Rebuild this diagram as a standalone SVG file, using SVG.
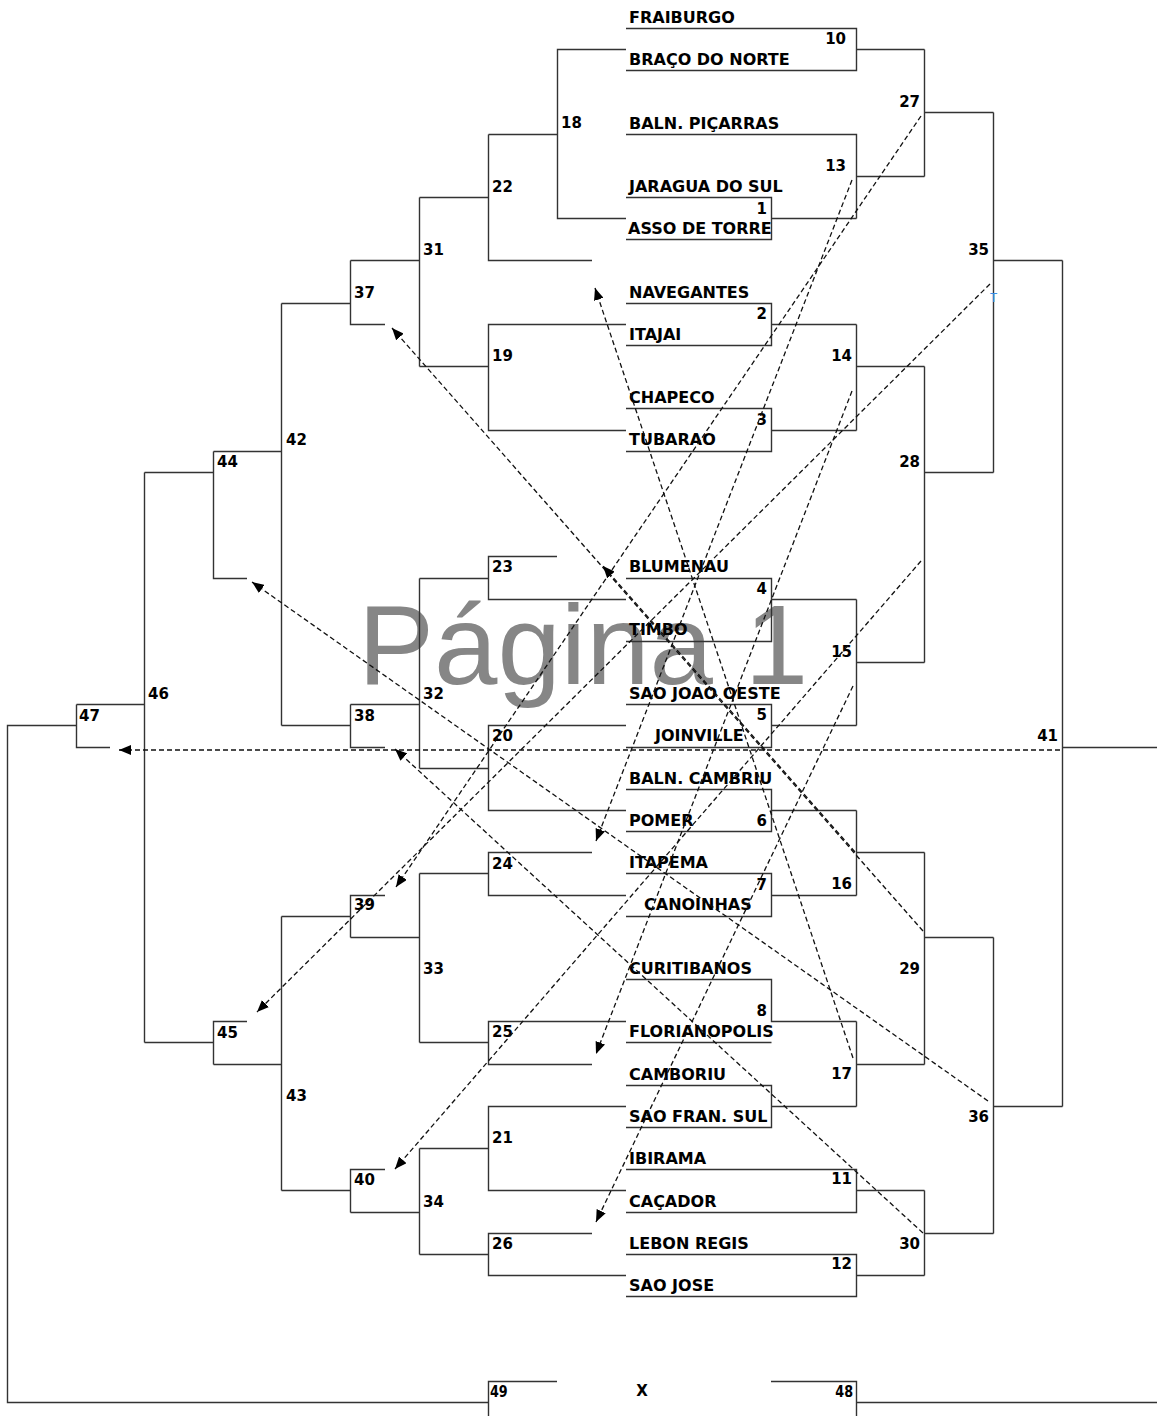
<svg xmlns="http://www.w3.org/2000/svg" width="1157" height="1416" viewBox="0 0 1157 1416">
<defs>
<style>
.b{fill:none;stroke:#333;stroke-width:1.4}
.d{fill:none;stroke:#111;stroke-width:1.3;stroke-dasharray:5 3}
.t{font-family:"DejaVu Sans","Liberation Sans",sans-serif;font-weight:bold;font-size:16px;fill:#000}
.n{font-family:"DejaVu Sans","Liberation Sans",sans-serif;font-weight:bold;font-size:15px;fill:#000}
.r{text-anchor:end}
.wm{font-family:"Liberation Sans",Arial,sans-serif;font-size:114px;fill:#868686}
</style>
<marker id="ah" markerUnits="userSpaceOnUse" markerWidth="13" markerHeight="10" refX="12" refY="5" orient="auto"><path d="M0,0 L12,5 L0,10 z" fill="#000"/></marker>
</defs>
<rect width="1157" height="1416" fill="#fff"/>
<text class="wm" x="358" y="684">Página 1</text>

<g id="teams">
<text class="t" x="629" y="22.5">FRAIBURGO</text>
<text class="t" x="629" y="64.5">BRAÇO DO NORTE</text>
<text class="t" x="629" y="128.5">BALN. PIÇARRAS</text>
<text class="t" x="629" y="191.5">JARAGUA DO SUL</text>
<text class="t" x="628" y="233.5">ASSO DE TORRE</text>
<text class="t" x="629" y="297.5">NAVEGANTES</text>
<text class="t" x="629" y="339.5">ITAJAI</text>
<text class="t" x="629" y="402.5">CHAPECO</text>
<text class="t" x="629" y="445">TUBARAO</text>
<text class="t" x="629" y="572">BLUMENAU</text>
<text class="t" x="629" y="635">TIMBO</text>
<text class="t" x="629" y="698.5">SAO JOAO OESTE</text>
<text class="t" x="655" y="741">JOINVILLE</text>
<text class="t" x="629" y="783.5">BALN. CAMBRIU</text>
<text class="t" x="629" y="825.5">POMER</text>
<text class="t" x="629" y="867.5">ITAPEMA</text>
<text class="t" x="644" y="910">CANOINHAS</text>
<text class="t" x="629" y="973.5">CURITIBANOS</text>
<text class="t" x="629" y="1036.5">FLORIANOPOLIS</text>
<text class="t" x="629" y="1079.5">CAMBORIU</text>
<text class="t" x="629" y="1121.5">SAO FRAN. SUL</text>
<text class="t" x="629" y="1164">IBIRAMA</text>
<text class="t" x="629" y="1206.5">CAÇADOR</text>
<text class="t" x="629" y="1248.5">LEBON REGIS</text>
<text class="t" x="629" y="1290.5">SAO JOSE</text>
</g>

<g id="g10"><path class="b" d="M626 28.5 H856.5 V70.5 H626 M856.5 49.5 H924.5"/><text class="n r" x="846" y="43.5">10</text></g>
<g id="g13"><path class="b" d="M626 134.5 H856.5 V218.5 M856.5 176.5 H924.5"/><text class="n r" x="846" y="170.5">13</text></g>
<g id="g1"><path class="b" d="M626 197.5 H771.5 V239.5 H626 M771.5 218.5 H856.5"/><text class="n r" x="767" y="213.5">1</text></g>
<g id="g27"><path class="b" d="M924.5 49.5 V176.5 M924.5 112.5 H993.5"/><text class="n r" x="920" y="107">27</text></g>
<g id="g2"><path class="b" d="M626 303.5 H771.5 V345.5 H626 M771.5 324.5 H856.5"/><text class="n r" x="767" y="318.5">2</text></g>
<g id="g3"><path class="b" d="M626 408.5 H771.5 V451.5 H626 M771.5 430.5 H856.5"/><text class="n r" x="767" y="424.5">3</text></g>
<g id="g14"><path class="b" d="M856.5 324.5 V430.5 M856.5 366.5 H924.5"/><text class="n r" x="852" y="361">14</text></g>
<g id="g4"><path class="b" d="M626 578.5 H771.5 V641.5 H626 M771.5 599.5 H856.5"/><text class="n r" x="767" y="593.5">4</text></g>
<g id="g5"><path class="b" d="M626 704.5 H771.5 V747.5 H626 M771.5 725.5 H856.5"/><text class="n r" x="767" y="720">5</text></g>
<g id="g15"><path class="b" d="M856.5 599.5 V725.5 M856.5 662.5 H924.5"/><text class="n r" x="852" y="657">15</text></g>
<g id="g28"><path class="b" d="M924.5 366.5 V662.5 M924.5 472.5 H993.5"/><text class="n r" x="920" y="467">28</text></g>
<g id="g35"><path class="b" d="M993.5 112.5 V472.5 M993.5 260.5 H1062.5"/><text class="n r" x="989" y="255">35</text><text x="990" y="302" font-family="Liberation Sans, sans-serif" font-size="12" fill="#3a8ee6">T</text></g>
<g id="g6"><path class="b" d="M626 789.5 H771.5 V831.5 H626 M771.5 810.5 H856.5"/><text class="n r" x="767" y="826">6</text></g>
<g id="g7"><path class="b" d="M626 873.5 H771.5 V916.5 H626 M771.5 895.5 H856.5"/><text class="n r" x="767" y="889.5">7</text></g>
<g id="g16"><path class="b" d="M856.5 810.5 V895.5 M856.5 852.5 H924.5"/><text class="n r" x="852" y="888.5">16</text></g>
<g id="g8"><path class="b" d="M626 979.5 H771.5 V1021.5 H856.5 M626 1042.5 H771.5"/><text class="n r" x="767" y="1016">8</text></g>
<g id="g9"><path class="b" d="M626 1085.5 H771.5 V1127.5 H626 M771.5 1106.5 H856.5"/></g>
<g id="g17"><path class="b" d="M856.5 1021.5 V1106.5 M856.5 1064.5 H924.5"/><text class="n r" x="852" y="1079">17</text></g>
<g id="g29"><path class="b" d="M924.5 852.5 V1064.5 M924.5 937.5 H993.5"/><text class="n r" x="920" y="973.5">29</text></g>
<g id="g11"><path class="b" d="M626 1169.5 H856.5 V1212.5 H626 M856.5 1190.5 H924.5"/><text class="n r" x="852" y="1184">11</text></g>
<g id="g12"><path class="b" d="M626 1254.5 H856.5 V1296.5 H626 M856.5 1275.5 H924.5"/><text class="n r" x="852" y="1269">12</text></g>
<g id="g30"><path class="b" d="M924.5 1190.5 V1275.5 M924.5 1233.5 H993.5"/><text class="n r" x="920" y="1248.5">30</text></g>
<g id="g36"><path class="b" d="M993.5 937.5 V1233.5 M993.5 1106.5 H1062.5"/><text class="n r" x="989" y="1122">36</text></g>
<g id="g41"><path class="b" d="M1062.5 260.5 V1106.5 M1062.5 747.5 H1157"/><text class="n r" x="1058" y="741">41</text></g>

<g id="g18"><path class="b" d="M626 49.5 H557.5 V218.5 H626 M557.5 134.5 H488.5"/><text class="n" x="561" y="128">18</text></g>
<g id="g22"><path class="b" d="M488.5 134.5 V260.5 H592 M488.5 197.5 H419.5"/><text class="n" x="492" y="192">22</text></g>
<g id="g19"><path class="b" d="M626 324.5 H488.5 V430.5 H626 M488.5 366.5 H419.5"/><text class="n" x="492" y="360.5">19</text></g>
<g id="g31"><path class="b" d="M419.5 197.5 V366.5 M419.5 260.5 H350.5"/><text class="n" x="423" y="255">31</text></g>
<g id="g37"><path class="b" d="M350.5 260.5 V324.5 H385 M350.5 303.5 H281.5"/><text class="n" x="354" y="297.5">37</text></g>
<g id="g23"><path class="b" d="M557 556.5 H488.5 V599.5 H626 M488.5 578.5 H419.5"/><text class="n" x="492" y="572">23</text></g>
<g id="g20"><path class="b" d="M626 725.5 H488.5 V810.5 H626 M488.5 768.5 H419.5"/><text class="n" x="492" y="741">20</text></g>
<g id="g32"><path class="b" d="M419.5 578.5 V768.5 M419.5 704.5 H350.5"/><text class="n" x="423" y="699">32</text></g>
<g id="g38"><path class="b" d="M350.5 704.5 V747.5 H385 M350.5 725.5 H281.5"/><text class="n" x="354" y="720.5">38</text></g>
<g id="g42"><path class="b" d="M281.5 303.5 V725.5 M281.5 451.5 H213.5"/><text class="n" x="286" y="445">42</text></g>
<g id="g44"><path class="b" d="M213.5 451.5 V578.5 H247 M213.5 472.5 H144.5"/><text class="n" x="217" y="467">44</text></g>
<g id="g24"><path class="b" d="M592 852.5 H488.5 V895.5 H626 M488.5 873.5 H419.5"/><text class="n" x="492" y="868.5">24</text></g>
<g id="g25"><path class="b" d="M626 1021.5 H488.5 V1064.5 H592 M488.5 1042.5 H419.5"/><text class="n" x="492" y="1037">25</text></g>
<g id="g33"><path class="b" d="M419.5 873.5 V1042.5 M419.5 937.5 H350.5"/><text class="n" x="423" y="974">33</text></g>
<g id="g39"><path class="b" d="M385 895.5 H350.5 V937.5 M350.5 916.5 H281.5"/><text class="n" x="354" y="910">39</text></g>
<g id="g21"><path class="b" d="M626 1106.5 H488.5 V1190.5 H626 M488.5 1148.5 H419.5"/><text class="n" x="492" y="1143">21</text></g>
<g id="g26"><path class="b" d="M592 1233.5 H488.5 V1275.5 H626 M488.5 1254.5 H419.5"/><text class="n" x="492" y="1248.5">26</text></g>
<g id="g34"><path class="b" d="M419.5 1148.5 V1254.5 M419.5 1212.5 H350.5"/><text class="n" x="423" y="1207">34</text></g>
<g id="g40"><path class="b" d="M385 1169.5 H350.5 V1212.5 M350.5 1190.5 H281.5"/><text class="n" x="354" y="1185">40</text></g>
<g id="g43"><path class="b" d="M281.5 916.5 V1190.5 M281.5 1064.5 H213.5"/><text class="n" x="286" y="1101">43</text></g>
<g id="g45"><path class="b" d="M247 1021.5 H213.5 V1064.5 M213.5 1042.5 H144.5"/><text class="n" x="217" y="1037.5">45</text></g>
<g id="g46"><path class="b" d="M144.5 472.5 V1042.5 M144.5 704.5 H76.5"/><text class="n" x="148" y="699">46</text></g>
<g id="g47"><path class="b" d="M76.5 704.5 V747.5 H110 M76.5 725.5 H7.5 V1402.5 H488.5"/><text class="n" x="79" y="720.5">47</text></g>
<g id="g49"><path class="b" d="M557 1381.5 H488.5 V1416"/><text class="n" x="490" y="1397" font-size="14" transform="translate(490 0) scale(0.85 1) translate(-490 0)">49</text></g>
<g id="gX"><text class="n" x="642" y="1396" text-anchor="middle" font-size="14">X</text></g>
<g id="g48"><path class="b" d="M771 1381.5 H856.5 V1416 M856.5 1402.5 H1157"/><text class="n r" x="853" y="1397" font-size="14" transform="translate(853 0) scale(0.85 1) translate(-853 0)">48</text></g>

<g id="connectors">
<path class="d" marker-end="url(#ah)" d="M921 116 L396 887"/>
<path class="d" marker-end="url(#ah)" d="M852 180 L596 841"/>
<path class="d" marker-end="url(#ah)" d="M990 284 L257 1012"/>
<path class="d" marker-end="url(#ah)" d="M852 391 L596 1054"/>
<path class="d" marker-end="url(#ah)" d="M921 561 L395 1169"/>
<path class="d" marker-end="url(#ah)" d="M853 686 L596 1222"/>
<path class="d" marker-end="url(#ah)" d="M1060 750 L119 750"/>
<path class="d" marker-end="url(#ah)" d="M923 931 L392 328"/>
<path class="d" marker-end="url(#ah)" d="M855 852 L603 566"/>
<path class="d" marker-end="url(#ah)" d="M853 1058 L595 288"/>
<path class="d" marker-end="url(#ah)" d="M988 1101 L252 582"/>
<path class="d" marker-end="url(#ah)" d="M923 1233 L395 749"/>
</g>
</svg>
